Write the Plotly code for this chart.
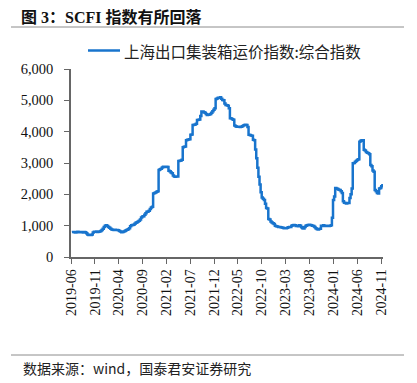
import pandas as pd
import plotly.graph_objects as go

# Weekly SCFI composite index values, grouped by year
scfi_2019 = [795, 800, 790, 785, 800, 805, 790, 795, 800, 790, 785, 795, 790,
             760, 720, 705, 700, 700, 715, 780, 805, 805, 810, 800, 805, 810,
             830, 860, 900, 960]
scfi_2020 = [1000, 1010, 990, 960, 930, 900, 880, 870, 865, 870, 860, 865, 850,
             830, 810, 790, 800, 810, 830, 850, 870, 885, 920, 980, 1010, 1020,
             1030, 1060, 1090, 1110, 1130, 1160, 1200, 1260, 1290, 1300, 1350, 1400, 1445,
             1450, 1480, 1530, 1580, 1600, 2030, 2040, 2060, 2080, 2100, 2780, 2800, 2820]
scfi_2021 = [2860, 2880, 2880, 2870, 2880, 2870, 2750, 2740, 2700, 2670, 2600, 2570, 2560,
             2570, 2570, 3060, 3070, 3080, 3100, 3500, 3520, 3530, 3730, 3740, 3750, 3760,
             3900, 3910, 4210, 4220, 4230, 4250, 4370, 4380, 4390, 4500, 4640, 4640, 4620,
             4600, 4560, 4530, 4540, 4550, 4560, 4600, 4650, 4700, 4750, 5040, 5060, 5085, 5080]
scfi_2022 = [5100, 5050, 5010, 5000, 4900, 4850, 4840, 4830, 4750, 4430, 4420, 4400,
             4380, 4200, 4170, 4160, 4160, 4160, 4150, 4160, 4170, 4200, 4210, 4220, 4210,
             4150, 3900, 3890, 3880, 3870, 3740, 3730, 3430, 3150, 2850, 2560, 2310, 2070, 1900,
             1860, 1820, 1700, 1560, 1550, 1210, 1200, 1130, 1100, 1080, 1050, 1000, 980]
scfi_2023 = [970, 960, 960, 950, 940, 930, 920, 915, 920, 930, 950, 960, 960,
             1000, 1010, 1020, 1015, 990, 1000, 980, 1010, 1000, 950, 920, 910, 960,
             1000, 1010, 1020, 1030, 1020, 1010, 1000, 990, 960, 920, 890, 880, 890,
             900, 1000, 990, 1010, 1000, 990, 1000, 990, 990, 1000, 1010, 1250, 1820]
scfi_2024 = [1930, 2200, 2190, 2170, 2150, 2140, 2100, 2040, 1780, 1730, 1720, 1710, 1720,
             1720, 1880, 2000, 2190, 2990, 3000, 3040, 3070, 3100, 3120, 3680, 3710, 3730,
             3730, 3420, 3400, 3350, 3330, 3310, 3280, 2940, 2900, 2760, 2720, 2140, 2100,
             2040, 2030, 2190, 2200, 2260, 2330]

values = scfi_2019 + scfi_2020 + scfi_2021 + scfi_2022 + scfi_2023 + scfi_2024
dates = pd.date_range("2019-06-07", periods=len(values), freq="W-FRI")

series_name = "上海出口集装箱运价指数:综合指数"
title_text = "<b>图 3：SCFI 指数有所回落</b>"
source_text = "数据来源：wind，国泰君安证券研究"
y_ticks = [0, 1000, 2000, 3000, 4000, 5000, 6000]

SERIF = "Liberation Serif, Times New Roman, Noto Sans CJK SC, serif"
CJK = "Noto Sans CJK SC, sans-serif"
AXIS_COLOR = "#666666"
LINE_COLOR = "#1874CD"

fig = go.Figure()
fig.add_trace(go.Scatter(
    x=dates, y=values, mode="lines", name=series_name, showlegend=False,
    line=dict(color=LINE_COLOR, width=2.5, shape="hv"),
))

# The page body adds an 8px margin, so the figure is drawn 8px smaller and
# all target screen positions are shifted by that offset.
OFF = 8
W, H = 417 - OFF, 383 - OFF
PL, PR, PT, PB = 71, 383, 69, 257          # plot box in screen pixels
L, T = PL - OFF, PT - OFF
R = W - (PR - OFF)
B = H - (PB - OFF)
pw, ph = PR - PL, PB - PT


def px(x):
    return (x - PL) / pw


def py(y):
    return (PB - y) / ph


fig.update_layout(
    width=W, height=H,
    margin=dict(l=L, r=R, t=T, b=B, autoexpand=False),
    paper_bgcolor="white", plot_bgcolor="white",
    showlegend=False,
    xaxis=dict(
        type="date", range=["2019-06-01", "2024-11-12"], automargin=False,
        tick0="2019-06-01", dtick="M5", tickformat="%Y-%m", tickangle=-90,
        showgrid=False, zeroline=False, showline=True, linecolor=AXIS_COLOR, linewidth=1.5,
        ticks="outside", ticklen=5, tickcolor=AXIS_COLOR, tickwidth=1,
        tickfont=dict(family=SERIF, size=14, color="#111111"),
    ),
    yaxis=dict(
        range=[0, 6000], tickvals=y_ticks, tickformat=",d", automargin=False,
        showgrid=False, zeroline=False, showline=True, linecolor=AXIS_COLOR, linewidth=1.5,
        ticks="outside", ticklen=5, tickcolor=AXIS_COLOR, tickwidth=1,
        ticklabelstandoff=8,
        tickfont=dict(family=SERIF, size=14.5, color="#111111"),
    ),
)

# legend: line sample + label
fig.add_shape(type="line", xref="paper", yref="paper", x0=px(88), x1=px(120),
              y0=py(50.5), y1=py(50.5), line=dict(color=LINE_COLOR, width=2.5))
fig.add_annotation(text=series_name, xref="paper", yref="paper", x=px(122), y=py(50.5),
                   xanchor="left", yanchor="middle", showarrow=False,
                   font=dict(family=CJK, size=15.5, color="#222222"))

fig.add_annotation(text=title_text, xref="paper", yref="paper", x=px(20), y=py(17.5),
                   xanchor="left", yanchor="middle", showarrow=False, borderpad=0,
                   font=dict(family=SERIF, size=16, color="#111111"))
fig.add_annotation(text=source_text, xref="paper", yref="paper", x=px(21), y=py(367.5),
                   xanchor="left", yanchor="middle", showarrow=False,
                   font=dict(family=CJK, size=14, color="#222222"))
fig.add_shape(type="line", xref="paper", yref="paper", x0=px(11), x1=px(404),
              y0=py(27), y1=py(27), line=dict(color="#8c8c8c", width=1))
fig.add_shape(type="line", xref="paper", yref="paper", x0=px(11), x1=px(404),
              y0=py(355), y1=py(355), line=dict(color="#8c8c8c", width=1))

fig.write_html("out.html")
